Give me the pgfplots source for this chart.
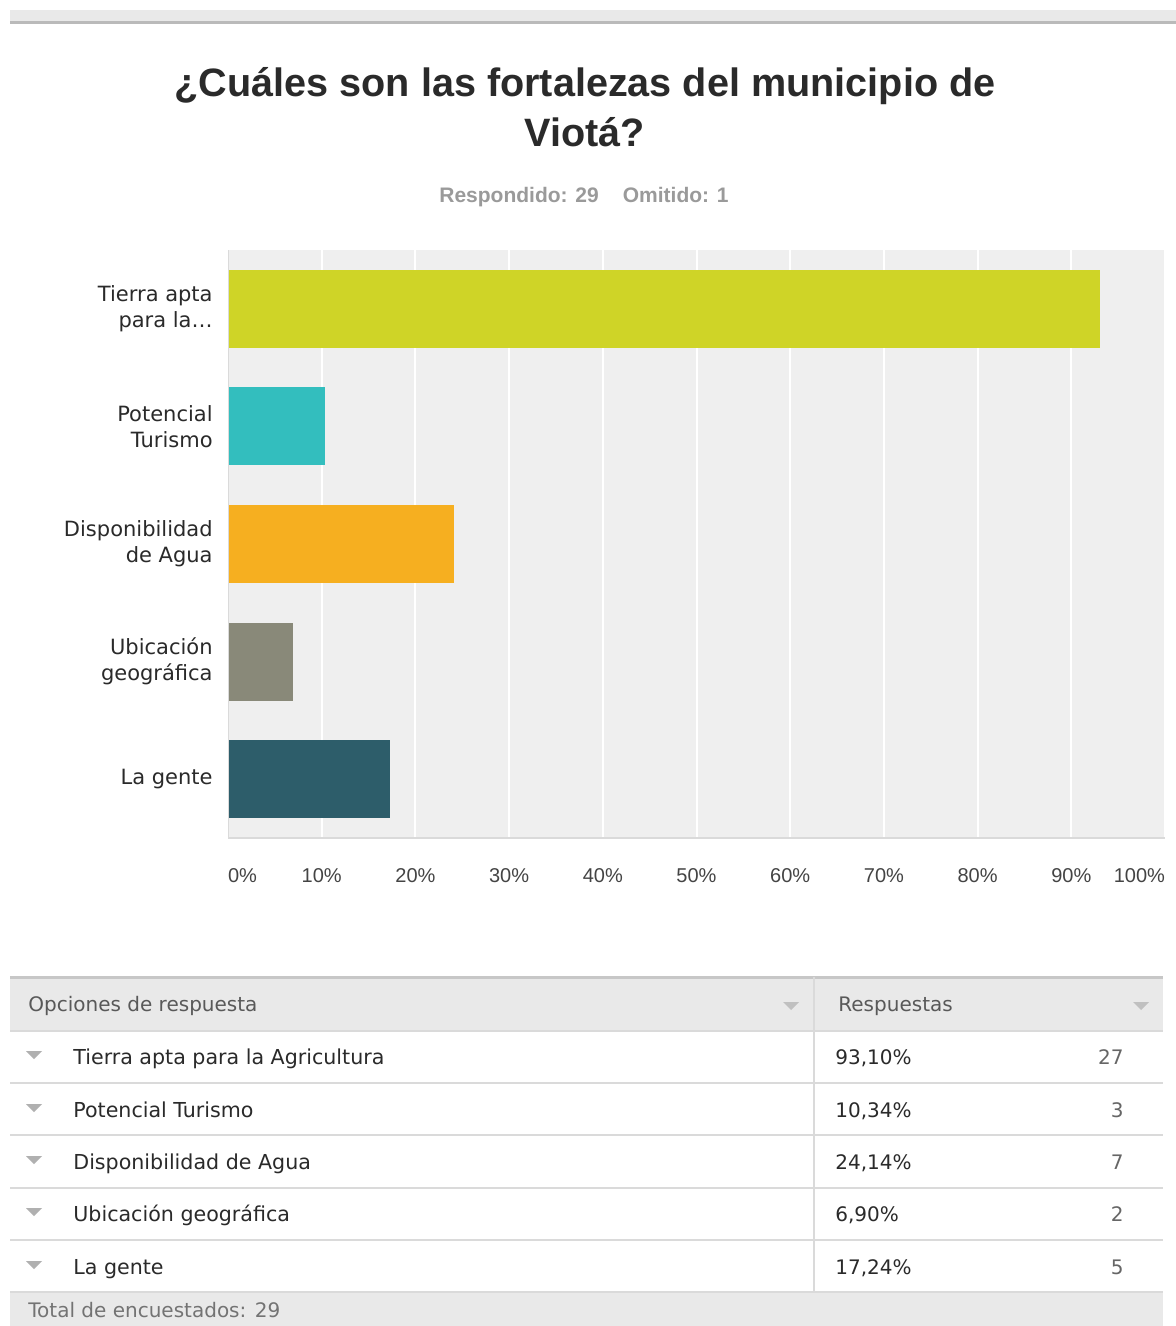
\documentclass[border=0pt]{standalone}
\usepackage{fontspec}
\setmainfont{Liberation Sans}
\newfontfamily\dv{DejaVu Sans}
\usepackage{pgfplots}
\pgfplotsset{compat=1.18}

\definecolor{cTierra}{HTML}{CFD427}
\definecolor{cTurismo}{HTML}{33BEBE}
\definecolor{cAgua}{HTML}{F6AF20}
\definecolor{cUbic}{HTML}{898979}
\definecolor{cGente}{HTML}{2D5D6A}
\definecolor{cBg}{HTML}{EFEFEF}
\definecolor{cAxis}{HTML}{DADADA}
\definecolor{cText}{HTML}{2A2A2A}
\definecolor{cTick}{HTML}{444444}
\definecolor{cSub}{HTML}{9A9A9A}
\definecolor{cHead}{HTML}{E9E9E9}
\definecolor{cLine}{HTML}{DADADA}
\definecolor{cTri}{HTML}{B0B0B0}

\begin{document}
\begin{tikzpicture}
% whole screenshot: 1176 x 1326 px, 1px = 0.5pt
\path[use as bounding box, clip] (0pt,0pt) rectangle (588pt,-663pt);
\fill[white] (0pt,0pt) rectangle (588pt,-663pt);

\begin{scope}[x=0.5pt,y=-0.5pt]
  % top bar
  \fill[cHead] (10,10) rectangle (1176,21);
  \fill[black!27] (10,21) rectangle (1176,24);

  % title
  \node[font=\bfseries\fontsize{19.8}{24}\selectfont, text=cText] at (585,86) {¿Cuáles son las fortalezas del municipio de};
  \node[font=\bfseries\fontsize{19.8}{24}\selectfont, text=cText] at (585,132) {Viotá?};
  \node[font=\bfseries\fontsize{10.5}{12}\selectfont, text=cSub] at (584,197) {Respondido: 29\hspace{12pt}Omitido: 1};

  % table
  \fill[cHead] (10,977) rectangle (1163,1031);
  \fill[cHead] (10,1292) rectangle (1163,1340);
  \draw[black!22, line width=1.5pt] (10,977) -- (1163,977);
  \foreach \yy in {1031,1083,1135,1188,1240,1292}
    \draw[cLine, line width=1pt] (10,\yy) -- (1163,\yy);
  \draw[cLine, line width=0.8pt] (814,977) -- (814,1292);

  \begin{scope}[font=\dv\fontsize{10}{12}\selectfont]
    \node[anchor=base west, text=black!65, inner sep=0pt] at (28,1011) {Opciones de respuesta};
    \node[anchor=base west, text=black!65, inner sep=0pt] at (838,1011) {Respuestas};
    \fill[cTri!80] (783,1002) -- (799,1002) -- (791,1010) -- cycle;
    \fill[cTri!80] (1133,1002) -- (1149,1002) -- (1141,1010) -- cycle;

    \foreach \yy/\lab/\pct/\cnt in {1057/Tierra apta para la Agricultura/{93,10\%}/27,
                                     1110/Potencial Turismo/{10,34\%}/3,
                                     1162/Disponibilidad de Agua/{24,14\%}/7,
                                     1214/Ubicación geográfica/{6,90\%}/2,
                                     1267/La gente/{17,24\%}/5} {
      \fill[cTri] (26,\yy-6) -- (42,\yy-6) -- (34,\yy+2) -- cycle;
      \node[anchor=base west, text=cText, inner sep=0pt, font=\dv\fontsize{10.3}{12}\selectfont] at (73,\yy+7) {\lab};
      \node[anchor=base west, text=cText, inner sep=0pt] at (835,\yy+7) {\pct};
      \node[anchor=base east, text=black!60, inner sep=0pt] at (1124,\yy+7) {\cnt};
    }
    \node[anchor=base west, text=black!55, inner sep=0pt] at (28,1317) {Total de encuestados: 29};
  \end{scope}
\end{scope}

\begin{axis}[
    at={(114pt,-419pt)}, anchor=south west,
    scale only axis,
    width=468.5pt, height=294pt,
    xbar, bar width=39pt, bar shift=0pt,
    y dir=reverse,
    xmin=0, xmax=100, ymin=-0.5, ymax=4.5,
    xtick={0,10,20,30,40,50,60,70,80,90,100},
    xticklabels={{\makebox[0pt][l]{0\%}},10\%,20\%,30\%,40\%,50\%,60\%,70\%,80\%,90\%,{\makebox[0pt][r]{100\%}}},
    ytick={0,1,2,3,4},
    yticklabels={{Tierra apta\\para la\ldots},{Potencial\\Turismo},{Disponibilidad\\de Agua},{Ubicación\\geográfica},{La gente}},
    axis background/.style={fill=cBg},
    xmajorgrids,
    grid style={white, line width=1pt},
    axis line style={draw=none},
    major tick length=0pt,
    xticklabel style={font=\fontsize{10}{12}\selectfont, text=cTick, anchor=north, inner sep=0pt, yshift=-15pt},
    yticklabel style={font=\dv\fontsize{10.5}{13}\selectfont, text=cText, align=right, inner sep=0pt, xshift=-7.5pt},
]
  \addplot[fill=cTierra, draw=none, bar shift=0pt] coordinates {(93.10,0)};
  \addplot[fill=cTurismo, draw=none, bar shift=0pt] coordinates {(10.34,1)};
  \addplot[fill=cAgua, draw=none, bar shift=0pt] coordinates {(24.14,2)};
  \addplot[fill=cUbic, draw=none, bar shift=0pt] coordinates {(6.90,3)};
  \addplot[fill=cGente, draw=none, bar shift=0pt] coordinates {(17.24,4)};
  \draw[cAxis, line width=1.5pt] (axis cs:0,4.5) -- (axis cs:100,4.5);
  \draw[cAxis, line width=1.2pt] (axis cs:0,-0.5) -- (axis cs:0,4.5);
\end{axis}
\end{tikzpicture}
\end{document}
